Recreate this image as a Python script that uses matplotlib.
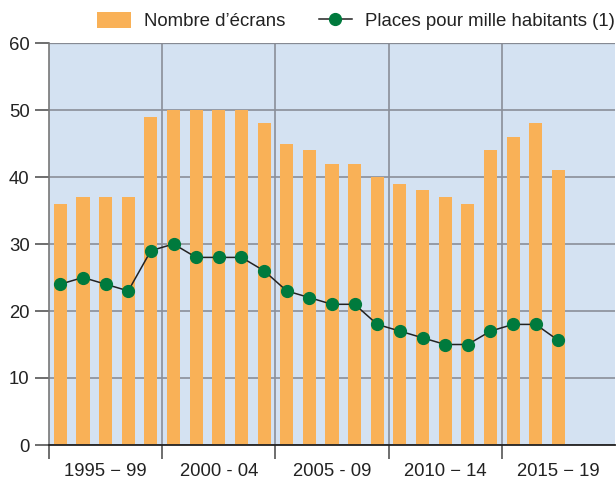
import matplotlib
matplotlib.use('Agg')
import matplotlib.pyplot as plt
import numpy as np

plt.rcParams['font.family'] = ['Liberation Sans', 'DejaVu Sans']

years = list(range(1995, 2018))
ecrans = [36, 37, 37, 37, 49, 50, 50, 50, 50, 48, 45, 44, 42, 42, 40,
          39, 38, 37, 36, 44, 46, 48, 41]
places = [24, 25, 24, 23, 29, 30, 28, 28, 28, 26, 23, 22, 21, 21, 18,
          17, 16, 15, 15, 17, 18, 18, 15.6]
groupes = ['1995 \u2212 99', '2000 - 04', '2005 - 09', '2010 \u2212 14', '2015 \u2212 19']

x = np.arange(len(years))

fig = plt.figure(figsize=(6.16, 4.79), dpi=100)
ax = fig.add_axes([49/616, 1 - 445/479, (615-49)/616, (445-43)/479])
ax.set_facecolor('#d4e2f2')

bars = ax.bar(x, ecrans, width=0.58, color='#f9b157', zorder=2, label="Nombre d\u2019écrans")
line, = ax.plot(x, places, '-', color='#222222', lw=1.1, marker='o', markersize=8.5,
                markerfacecolor='#007a3d', markeredgecolor='#007a3d', zorder=3,
                label='Places pour mille habitants (1)')

ax.set_xlim(-0.5, 24.5)
ax.set_ylim(0, 60)
ax.set_yticks(range(0, 61, 10))
ax.yaxis.grid(True, color='#8a8f99', lw=1.2, zorder=1)
for b in [4.5, 9.5, 14.5, 19.5]:
    ax.axvline(b, color='#8a8f99', lw=1.2, zorder=1)

ax.set_xticks([-0.5, 4.5, 9.5, 14.5, 19.5])
ax.set_xticklabels([])
ax.set_xticks([2, 7, 12, 17, 22], minor=True)
ax.set_xticklabels(groupes, minor=True)
ax.tick_params(axis='x', which='major', length=10, color='#555555', width=1.2)
ax.tick_params(axis='x', which='minor', length=0, pad=13, labelsize=13.3, labelcolor='#222222')
ax.tick_params(axis='y', length=10, color='#555555', width=1.2, labelsize=13.3, labelcolor='#222222', pad=4)

for s in ['top', 'right']:
    ax.spines[s].set_visible(False)
ax.spines['left'].set_color('#777777')
ax.spines['left'].set_linewidth(1.2)
ax.spines['bottom'].set_color('#222222')
ax.spines['bottom'].set_linewidth(1.3)
ax.axhline(60, color='#777777', lw=1.6, zorder=1)

fig.legend([bars, line], [bars.get_label(), line.get_label()],
           loc='center', bbox_to_anchor=(356/616, 1 - 21/479), ncol=2, frameon=False,
           fontsize=13.4, handlelength=1.8, handleheight=1.0, columnspacing=1.8,
           handletextpad=0.7, labelcolor='#222222')

fig.savefig('out.png', dpi=100)
